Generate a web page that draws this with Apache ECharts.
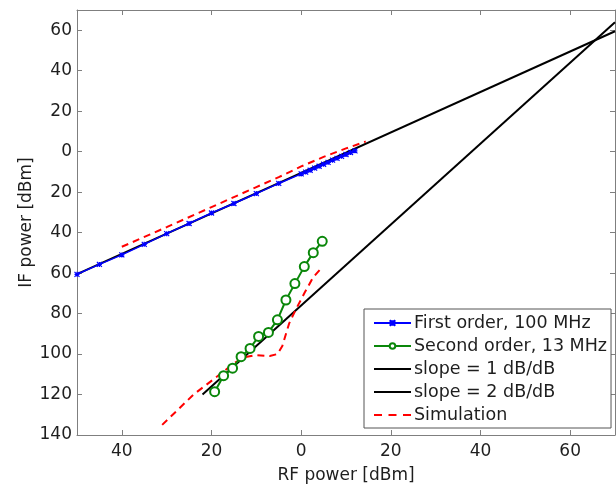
<!DOCTYPE html>
<html>
<head>
<meta charset="utf-8">
<script src="https://cdn.jsdelivr.net/npm/echarts@6/dist/echarts.min.js"></script>
<style>html,body{margin:0;padding:0;background:#fff;}#c{width:616px;height:487px;}</style>
</head>
<body>
<div id="c"></div>
<script>
// ---- data ----
const firstX = [-50,-45,-40,-35,-30,-25,-20,-15,-10,-5,0,1,2,3,4,5,6,7,8,9,10,11,12];
const firstY = [-60.6,-55.7,-51.0,-45.8,-40.5,-35.5,-30.3,-25.6,-20.7,-15.7,-11.0,-10.1,-9.2,-8.1,-7.2,-6.2,-5.3,-4.2,-3.3,-2.3,-1.4,-0.4,0.4];
const secondX = [-19.3,-17.3,-15.3,-13.4,-11.4,-9.5,-7.3,-5.3,-3.4,-1.4,0.7,2.7,4.7];
const secondY = [-118.6,-110.7,-107.0,-101.3,-97.2,-91.3,-89.3,-83.1,-73.3,-65.2,-56.8,-49.9,-44.3];
const slope1X = [-50,70];
const slope1Y = [-60.5,59.5];
const slope2X = [-22,70];
const slope2Y = [-120,64];
const simUpX = [-40,-30,-20,-10,-5,0,5,10,14.4];
const simUpY = [-47,-37.3,-27.4,-17.5,-12.6,-7.3,-2.6,1.6,5.0];
const simLowX = [-31,-24,-17.5,-15.3,-12.7,-10,-7,-5.3,-4.2,-2.7,-1.2,0.7,2.7,4.7];
const simLowY = [-135,-120,-109,-105,-101.6,-100.5,-101,-100,-96,-85,-78,-70,-62,-57];
const xTicks = [-40,-20,0,20,40,60];
const yTicks = [-140,-120,-100,-80,-60,-40,-20,0,20,40,60];
const names = ['First order, 100 MHz','Second order, 13 MHz','slope = 1 dB/dB','slope = 2 dB/dB','Simulation'];

const zip = (a,b)=>a.map((v,i)=>[v,b[i]]);
const fmt = v => String(Math.abs(v));
const FONT = 'DejaVu Sans, Verdana, sans-serif';
const FS = 17;
const TXT = '#1e1e1e';
const axisLineStyle = {color:'#7f7f7f', width:1};
// legend icon shapes (37 x 7 box, corner specks fix the box)
const BOX = 'M0,0h0.01v0.01h-0.01zM36.99,6.99h0.01v0.01h-0.01z';
const ICON_SOLID = 'path://' + BOX + 'M0,2.5h37v2h-37z';
const ICON_DASH = 'path://' + BOX + 'M0,2.5h8v2h-8zM14.5,2.5h8v2h-8zM29,2.5h8v2h-8z';

const chart = echarts.init(document.getElementById('c'), null, {renderer:'canvas'});
const xBase = {type:'value', min:-50, max:70, splitLine:{show:false},
  axisLine:{show:true, onZero:false, lineStyle:axisLineStyle}};
const yBase = {type:'value', min:-140, max:70, splitLine:{show:false},
  axisLine:{show:true, onZero:false, lineStyle:axisLineStyle}};
chart.setOption({
  animation:false,
  backgroundColor:'#fff',
  grid:{left:77, right:1, top:10, bottom:52, containLabel:false, outerBoundsMode:'none'},
  xAxis:[
    Object.assign({}, xBase, {position:'bottom', name:'RF power [dBm]', nameLocation:'middle', nameGap:32,
      nameMoveOverlap:false,
      nameTextStyle:{fontFamily:FONT, fontSize:FS, color:TXT},
      axisTick:{inside:true, length:5, customValues:xTicks, lineStyle:axisLineStyle},
      axisLabel:{customValues:xTicks, formatter:fmt, fontFamily:FONT, fontSize:FS, color:TXT, margin:8}}),
    Object.assign({}, xBase, {position:'top',
      axisTick:{inside:true, length:5, customValues:xTicks, lineStyle:axisLineStyle},
      axisLabel:{show:false}})
  ],
  yAxis:[
    Object.assign({}, yBase, {position:'left', name:'IF power [dBm]', nameLocation:'middle', nameGap:42,
      nameMoveOverlap:false,
      nameTextStyle:{fontFamily:FONT, fontSize:FS, color:TXT},
      axisTick:{inside:true, length:5, customValues:yTicks, lineStyle:axisLineStyle},
      axisLabel:{customValues:yTicks, formatter:fmt, fontFamily:FONT, fontSize:FS, color:TXT, margin:5}}),
    Object.assign({}, yBase, {position:'right',
      axisTick:{inside:true, length:5, customValues:yTicks, lineStyle:axisLineStyle},
      axisLabel:{show:false}})
  ],
  legend:{
    orient:'vertical', left:364, top:309,
    data:[{name:names[0]},{name:names[1]},{name:names[2],icon:ICON_SOLID},{name:names[3],icon:ICON_SOLID},{name:names[4],icon:ICON_DASH}],
    backgroundColor:'#fff', borderColor:'#555', borderWidth:1,
    padding:[5,4,4,9], itemGap:5, itemWidth:37, itemHeight:7,
    textStyle:{fontFamily:FONT, fontSize:17.5, color:TXT, padding:[0,0,0,-2]}
  },
  series:[
    {name:names[2], type:'line', data:zip(slope1X,slope1Y), symbol:'none', clip:true,
      lineStyle:{color:'#000', width:2}, itemStyle:{color:'#000'}, z:2},
    {name:names[3], type:'line', data:zip(slope2X,slope2Y), symbol:'none', clip:true,
      lineStyle:{color:'#000', width:2}, itemStyle:{color:'#000'}, z:2},
    {name:names[4], type:'line', data:zip(simUpX,simUpY), symbol:'none', smooth:false,
      lineStyle:{color:'#ff0000', width:2, type:[7,5]}, itemStyle:{color:'#ff0000'}, z:3},
    {name:names[4], type:'line', data:zip(simLowX,simLowY), symbol:'none', smooth:false,
      lineStyle:{color:'#ff0000', width:2, type:[7,5]}, itemStyle:{color:'#ff0000'}, z:3},
    {name:names[0], type:'line', data:zip(firstX,firstY),
      symbol:'path://M0,0L10,10M10,0L0,10M5,0L5,10M0,5L10,5', symbolSize:5,
      lineStyle:{color:'#0000ff', width:1.5},
      itemStyle:{color:'#0000ff', borderColor:'#0000ff', borderWidth:1.2}, z:4},
    {name:names[1], type:'line', data:zip(secondX,secondY),
      symbol:'emptyCircle', symbolSize:9,
      lineStyle:{color:'#0a870a', width:2},
      itemStyle:{color:'#0a870a', borderColor:'#0a870a', borderWidth:1.8}, z:5}
  ]
});
</script>
</body>
</html>
